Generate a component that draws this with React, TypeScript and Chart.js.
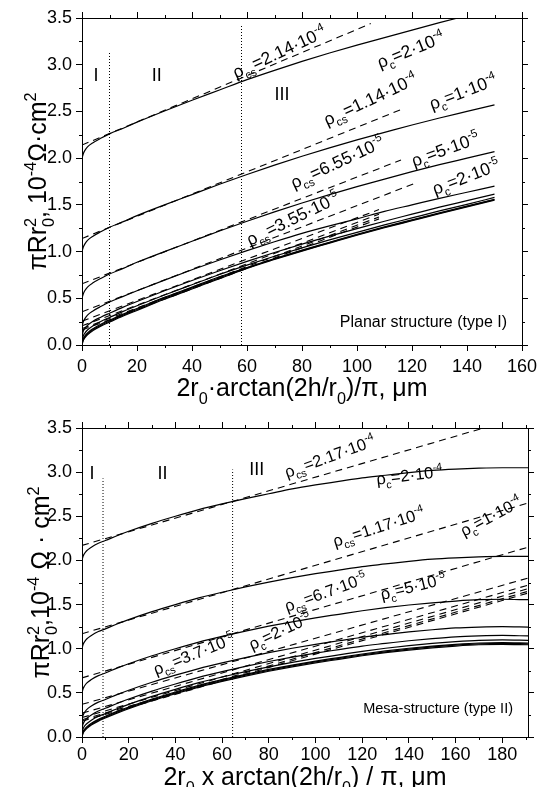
import React, { useEffect, useRef } from 'react';
import { Chart, registerables } from 'chart.js';

Chart.register(...registerables);

const FONT = '"Liberation Sans", Arial, Helvetica, sans-serif';

// ---------------- TOP PANEL (planar structure) ----------------
const X_TOP = [0, 0.5, 1, 2, 4, 7, 10, 15, 20, 30, 40, 50, 60, 70, 80, 90, 100, 110, 120, 130, 140, 150];
const TOP_RC_2E4 = [2.0, 2.05, 2.08, 2.12, 2.165, 2.215, 2.26, 2.32, 2.385, 2.505, 2.62, 2.73, 2.84, 2.94, 3.035, 3.125, 3.21, 3.29, 3.37, 3.45, 3.525, 3.6];
const TOP_RC_1E4 = [1.0, 1.05, 1.08, 1.12, 1.165, 1.215, 1.26, 1.32, 1.385, 1.5, 1.61, 1.72, 1.825, 1.925, 2.02, 2.11, 2.195, 2.275, 2.355, 2.43, 2.5, 2.57];
const TOP_RC_5E5 = [0.5, 0.55, 0.58, 0.62, 0.665, 0.715, 0.76, 0.82, 0.885, 1.0, 1.11, 1.22, 1.325, 1.425, 1.52, 1.61, 1.695, 1.775, 1.855, 1.93, 2.0, 2.07];
const TOP_RC_2E5 = [0.2, 0.25, 0.28, 0.32, 0.365, 0.415, 0.46, 0.52, 0.58, 0.695, 0.805, 0.91, 1.01, 1.105, 1.195, 1.275, 1.35, 1.43, 1.5, 1.57, 1.635, 1.7];
const TOP_RC_1E5 = [0.1, 0.15, 0.175, 0.21, 0.255, 0.3, 0.34, 0.405, 0.465, 0.58, 0.69, 0.795, 0.895, 0.99, 1.08, 1.165, 1.245, 1.325, 1.4, 1.475, 1.545, 1.615];
const TOP_RC_5E6 = [0.05, 0.1, 0.125, 0.16, 0.205, 0.255, 0.295, 0.36, 0.42, 0.535, 0.645, 0.755, 0.855, 0.95, 1.04, 1.125, 1.205, 1.285, 1.36, 1.435, 1.505, 1.58];
const TOP_RC_2E6 = [0.02, 0.07, 0.095, 0.13, 0.175, 0.225, 0.265, 0.33, 0.39, 0.51, 0.62, 0.73, 0.83, 0.925, 1.015, 1.1, 1.185, 1.265, 1.34, 1.415, 1.488, 1.56];
const TOP_RC_1E6 = [0.01, 0.06, 0.085, 0.12, 0.165, 0.215, 0.255, 0.32, 0.38, 0.5, 0.61, 0.72, 0.825, 0.92, 1.01, 1.095, 1.18, 1.26, 1.335, 1.41, 1.483, 1.555];
const TOP_RC_0 = [0, 0.05, 0.075, 0.11, 0.155, 0.205, 0.245, 0.31, 0.37, 0.49, 0.6, 0.71, 0.82, 0.915, 1.005, 1.09, 1.175, 1.255, 1.33, 1.405, 1.478, 1.55];
const TOP_SOLID = [TOP_RC_2E4, TOP_RC_1E4, TOP_RC_5E5, TOP_RC_2E5, TOP_RC_1E5, TOP_RC_5E6, TOP_RC_2E6, TOP_RC_1E6, TOP_RC_0];

// dashed linear fits (rho_cs): start at x = 0, end at given x
const TOP_DASH_Y_START = [2.14, 1.14, 0.655, 0.355, 0.255, 0.205, 0.175, 0.16];
const TOP_DASH_X_END = [105, 116, 116, 121, 108, 108, 108, 108];
const TOP_DASH_Y_END = [3.44, 2.52, 1.98, 1.73, 1.45, 1.4, 1.37, 1.35];

const TOP_DIVIDER_X = [10, 58];
const TOP_DIVIDER_TOP = [3.14, 3.42];

// ---------------- BOTTOM PANEL (mesa structure) ----------------
const X_BOT = [0, 0.5, 1, 2, 4, 7, 10, 15, 20, 30, 40, 50, 60, 70, 80, 90, 100, 110, 120, 130, 140, 150, 160, 170, 180, 191];
const BOT_RC_2E4 = [2.0, 2.05, 2.075, 2.11, 2.15, 2.195, 2.225, 2.28, 2.33, 2.42, 2.5, 2.575, 2.64, 2.7, 2.755, 2.81, 2.855, 2.895, 2.935, 2.965, 2.995, 3.02, 3.035, 3.045, 3.05, 3.05];
const BOT_RC_1E4 = [1.0, 1.05, 1.075, 1.11, 1.15, 1.195, 1.225, 1.28, 1.33, 1.42, 1.5, 1.575, 1.64, 1.7, 1.755, 1.805, 1.85, 1.89, 1.93, 1.96, 1.99, 2.015, 2.03, 2.04, 2.045, 2.045];
const BOT_RC_5E5 = [0.5, 0.55, 0.575, 0.61, 0.65, 0.695, 0.725, 0.78, 0.83, 0.92, 1.0, 1.075, 1.14, 1.2, 1.255, 1.305, 1.35, 1.39, 1.43, 1.465, 1.495, 1.52, 1.54, 1.555, 1.56, 1.555];
const BOT_RC_2E5 = [0.2, 0.25, 0.275, 0.31, 0.35, 0.395, 0.425, 0.48, 0.53, 0.62, 0.7, 0.775, 0.84, 0.9, 0.955, 1.005, 1.05, 1.09, 1.13, 1.16, 1.19, 1.215, 1.235, 1.245, 1.25, 1.245];
const BOT_RC_1E5 = [0.1, 0.15, 0.175, 0.21, 0.25, 0.295, 0.325, 0.38, 0.43, 0.52, 0.6, 0.675, 0.74, 0.8, 0.855, 0.905, 0.95, 0.99, 1.03, 1.06, 1.09, 1.115, 1.135, 1.145, 1.15, 1.145];
const BOT_RC_5E6 = [0.05, 0.095, 0.12, 0.15, 0.19, 0.235, 0.265, 0.32, 0.37, 0.46, 0.54, 0.615, 0.68, 0.74, 0.795, 0.845, 0.89, 0.93, 0.97, 1.005, 1.035, 1.06, 1.08, 1.095, 1.1, 1.095];
const BOT_RC_2E6 = [0.02, 0.065, 0.085, 0.115, 0.155, 0.2, 0.235, 0.29, 0.34, 0.43, 0.51, 0.585, 0.65, 0.71, 0.765, 0.815, 0.86, 0.9, 0.94, 0.975, 1.005, 1.03, 1.05, 1.065, 1.07, 1.065];
const BOT_RC_1E6 = [0.01, 0.055, 0.075, 0.105, 0.145, 0.19, 0.225, 0.28, 0.33, 0.42, 0.5, 0.575, 0.64, 0.7, 0.755, 0.805, 0.85, 0.89, 0.93, 0.965, 0.995, 1.02, 1.04, 1.055, 1.06, 1.055];
const BOT_RC_0 = [0, 0.045, 0.065, 0.095, 0.135, 0.18, 0.215, 0.27, 0.32, 0.41, 0.49, 0.565, 0.63, 0.69, 0.745, 0.795, 0.84, 0.88, 0.92, 0.955, 0.985, 1.01, 1.03, 1.045, 1.05, 1.045];
const BOT_SOLID = [BOT_RC_2E4, BOT_RC_1E4, BOT_RC_5E5, BOT_RC_2E5, BOT_RC_1E5, BOT_RC_5E6, BOT_RC_2E6, BOT_RC_1E6, BOT_RC_0];

const BOT_DASH_Y_START = [2.17, 1.17, 0.67, 0.37, 0.27, 0.22, 0.195, 0.18];
const BOT_DASH_X_END = [172, 191, 191, 191, 191, 191, 191, 191];
const BOT_DASH_Y_END = [3.5, 2.65, 2.15, 1.8, 1.72, 1.68, 1.65, 1.63];

const BOT_DIVIDER_X = [9, 64.5];
const BOT_DIVIDER_TOP = [2.93, 3.03];

// ---------------- text ----------------
const TOP_NOTES = [
  { text: 'ρ_{cs}=2.14·10^{-4}', x: 56.0, y: 2.85, angle: -25 },
  { text: 'ρ_{c}=2·10^{-4}', x: 108.4, y: 2.96, angle: -22 },
  { text: 'ρ_{cs}=1.14·10^{-4}', x: 89.1, y: 2.345, angle: -25 },
  { text: 'ρ_{c}=1·10^{-4}', x: 127.3, y: 2.516, angle: -21 },
  { text: 'ρ_{cs}=6.55·10^{-5}', x: 77.1, y: 1.67, angle: -25 },
  { text: 'ρ_{c}=5·10^{-5}', x: 120.7, y: 1.906, angle: -20 },
  { text: 'ρ_{cs}=3.55·10^{-5}', x: 61.1, y: 1.06, angle: -26 },
  { text: 'ρ_{c}=2·10^{-5}', x: 128.4, y: 1.606, angle: -21 },
];
const BOT_NOTES = [
  { text: 'ρ_{cs}=2.17·10^{-4}', x: 87.8, y: 2.935, angle: -20 },
  { text: 'ρ_{c}=2·10^{-4}', x: 126.3, y: 2.857, angle: -7 },
  { text: 'ρ_{cs}=1.17·10^{-4}', x: 108.4, y: 2.153, angle: -18 },
  { text: 'ρ_{c}=1·10^{-4}', x: 163.6, y: 2.267, angle: -28 },
  { text: 'ρ_{cs}=6.7·10^{-5}', x: 87.8, y: 1.415, angle: -20 },
  { text: 'ρ_{c}=5·10^{-5}', x: 128.5, y: 1.552, angle: -14 },
  { text: 'ρ_{cs}=3.7·10^{-5}', x: 31.7, y: 0.7, angle: -22 },
  { text: 'ρ_{c}=2·10^{-5}', x: 72.8, y: 0.984, angle: -25 },
];
const TOP_REGIONS = [
  { text: 'I', x: 5.1, y: 2.89 },
  { text: 'II', x: 27.2, y: 2.89 },
  { text: 'III', x: 72.7, y: 2.69 },
];
const BOT_REGIONS = [
  { text: 'I', x: 4.3, y: 3.0 },
  { text: 'II', x: 34.5, y: 3.0 },
  { text: 'III', x: 74.8, y: 3.04 },
];

// ---------------- rich text helpers ----------------
type Seg = { t: string; k: 'n' | 'b' | 'p' };
function parseRich(s: string): Seg[] {
  const out: Seg[] = [];
  let i = 0;
  let buf = '';
  while (i < s.length) {
    const c = s[i];
    if ((c === '_' || c === '^') && s[i + 1] === '{') {
      if (buf) { out.push({ t: buf, k: 'n' }); buf = ''; }
      const j = s.indexOf('}', i);
      out.push({ t: s.slice(i + 2, j), k: c === '_' ? 'b' : 'p' });
      i = j + 1;
    } else {
      buf += c;
      i++;
    }
  }
  if (buf) out.push({ t: buf, k: 'n' });
  return out;
}
function drawRich(ctx: CanvasRenderingContext2D, s: string, x: number, y: number, size: number, align: 'left' | 'center' | 'right' = 'left') {
  const segs = parseRich(s);
  const items: { t: string; font: string; dx: number; dy: number }[] = [];
  let cx = 0;
  let subStart = 0;
  let subW = 0;
  segs.forEach((sg, idx) => {
    const fs = sg.k === 'n' ? size : size * 0.65;
    const font = `${fs}px ${FONT}`;
    ctx.font = font;
    const w = ctx.measureText(sg.t).width;
    let dy = 0;
    if (sg.k === 'b') dy = size * 0.3;
    if (sg.k === 'p') dy = -size * 0.42;
    if (sg.k === 'p' && idx > 0 && segs[idx - 1].k === 'b') {
      items.push({ t: sg.t, font, dx: subStart, dy });
      cx = subStart + Math.max(subW, w);
      return;
    }
    items.push({ t: sg.t, font, dx: cx, dy });
    if (sg.k === 'b') { subStart = cx; subW = w; }
    cx += w;
  });
  const x0 = align === 'left' ? x : align === 'center' ? x - cx / 2 : x - cx;
  ctx.fillStyle = '#000';
  ctx.textAlign = 'left';
  ctx.textBaseline = 'alphabetic';
  for (const it of items) {
    ctx.font = it.font;
    ctx.fillText(it.t, x0 + it.dx, y + it.dy);
  }
}

type PanelCfg = {
  xMax: number;
  xMinor: number;
  xMajor: number;
  notes: { text: string; x: number; y: number; angle: number }[];
  noteSize: number;
  regions: { text: string; x: number; y: number }[];
  xTitle: string;
  yTitle: string;
  xTitleDy: number;
  yTitleDx: number;
  tag: string;
  tagDx: number;
  tagDy: number;
  tagSize: number;
};

function decorPlugin(cfg: PanelCfg) {
  return {
    id: 'decor',
    afterDraw(chart: any) {
      const { ctx, chartArea: a, scales } = chart;
      const xs = scales.x;
      const ys = scales.y;
      ctx.save();
      // minor ticks
      ctx.strokeStyle = '#000';
      ctx.lineWidth = 1;
      ctx.beginPath();
      for (let k = 1; k * cfg.xMinor <= cfg.xMax + 1e-9; k++) {
        const v = k * cfg.xMinor;
        if (Math.abs(v / cfg.xMajor - Math.round(v / cfg.xMajor)) < 1e-6) continue;
        const px = Math.round(xs.getPixelForValue(v)) + 0.5;
        ctx.moveTo(px, a.bottom);
        ctx.lineTo(px, a.bottom + 3);
        ctx.moveTo(px, a.top);
        ctx.lineTo(px, a.top - 3);
      }
      for (let k = 0; k < 7; k++) {
        const v = 0.25 + k * 0.5;
        const py = Math.round(ys.getPixelForValue(v)) + 0.5;
        ctx.moveTo(a.left, py);
        ctx.lineTo(a.left - 3, py);
        ctx.moveTo(a.right, py);
        ctx.lineTo(a.right + 3, py);
      }
      ctx.stroke();

      // rotated labels
      for (const n of cfg.notes) {
        const px = xs.getPixelForValue(n.x);
        const py = ys.getPixelForValue(n.y);
        ctx.save();
        ctx.translate(px, py);
        ctx.rotate((n.angle * Math.PI) / 180);
        drawRich(ctx, n.text, 0, 0, cfg.noteSize, 'left');
        ctx.restore();
      }
      // region numerals
      for (const r of cfg.regions) {
        const px = xs.getPixelForValue(r.x);
        const py = ys.getPixelForValue(r.y);
        drawRich(ctx, r.text, px, py + 18 * 0.36, 18, 'center');
      }
      // structure tag
      drawRich(ctx, cfg.tag, a.right - cfg.tagDx, a.bottom - cfg.tagDy, cfg.tagSize, 'right');
      // axis titles
      const cxm = (a.left + a.right) / 2;
      drawRich(ctx, cfg.xTitle, cxm, a.bottom + cfg.xTitleDy, 25, 'center');
      ctx.save();
      ctx.translate(a.left - cfg.yTitleDx, (a.top + a.bottom) / 2);
      ctx.rotate(-Math.PI / 2);
      drawRich(ctx, cfg.yTitle, 0, 0, 25, 'center');
      ctx.restore();
      ctx.restore();
    },
  };
}

function buildDatasets(xArr: number[], solids: number[][], y0: number[], xEnd: number[], y1: number[], divX: number[], divTop: number[]) {
  const ds: any[] = [];
  solids.forEach((ys) => {
    ds.push({
      data: xArr.map((x, i) => ({ x, y: ys[i] })),
      borderColor: '#000',
      borderWidth: 1.2,
      pointRadius: 0,
      cubicInterpolationMode: 'monotone',
      fill: false,
    });
  });
  y0.forEach((v, i) => {
    ds.push({
      data: [{ x: 0, y: v }, { x: xEnd[i], y: y1[i] }],
      borderColor: '#000',
      borderWidth: 1.1,
      borderDash: [7, 5],
      pointRadius: 0,
      fill: false,
    });
  });
  divX.forEach((x, i) => {
    ds.push({
      data: [{ x, y: 0 }, { x, y: divTop[i] }],
      borderColor: '#000',
      borderWidth: 1,
      borderDash: [1, 2],
      pointRadius: 0,
      fill: false,
    });
  });
  return ds;
}

function makeScales(xMax: number, top: number, bottom: number, left: number, right: number, canvasW: number, canvasH: number, xPad: number) {
  const grid = { display: true, drawOnChartArea: false, drawTicks: true, tickLength: 6, color: '#000', tickColor: '#000', lineWidth: 1 };
  const border = { display: true, color: '#000', width: 1 };
  const tickFont = { family: FONT, size: 18 };
  return {
    x: {
      type: 'linear', position: 'bottom', min: 0, max: xMax,
      ticks: { stepSize: 20, includeBounds: false, autoSkip: false, maxRotation: 0, font: tickFont, color: '#000', padding: xPad, callback: (v: any) => String(v) },
      grid, border,
      afterFit: (s: any) => { s.height = canvasH - bottom; },
    },
    x2: {
      type: 'linear', position: 'top', min: 0, max: xMax,
      ticks: { stepSize: 20, includeBounds: false, display: false },
      grid, border,
      afterFit: (s: any) => { s.height = top; },
    },
    y: {
      type: 'linear', position: 'left', min: 0, max: 3.5,
      ticks: { stepSize: 0.5, includeBounds: false, font: tickFont, color: '#000', padding: 4, callback: (v: any) => Number(v).toFixed(1) },
      grid, border,
      afterFit: (s: any) => { s.width = left; },
    },
    y2: {
      type: 'linear', position: 'right', min: 0, max: 3.5,
      ticks: { stepSize: 0.5, includeBounds: false, display: false },
      grid, border,
      afterFit: (s: any) => { s.width = canvasW - right; },
    },
  };
}

const CW = 600;
const CH = 787;

export default function App() {
  const topRef = useRef<HTMLCanvasElement>(null);
  const botRef = useRef<HTMLCanvasElement>(null);

  useEffect(() => {
    const topCfg: PanelCfg = {
      xMax: 160, xMinor: 10, xMajor: 20,
      notes: TOP_NOTES, noteSize: 17.5, regions: TOP_REGIONS,
      xTitle: '2r_{0}·arctan(2h/r_{0})/π, μm',
      yTitle: 'πRr_{0}^{2}, 10^{-4}Ω·cm^{2}',
      xTitleDy: 51, yTitleDx: 36,
      tag: 'Planar structure (type I)', tagDx: 15, tagDy: 18, tagSize: 16,
    };
    const botCfg: PanelCfg = {
      xMax: 191, xMinor: 10, xMajor: 20,
      notes: BOT_NOTES, noteSize: 16.5, regions: BOT_REGIONS,
      xTitle: '2r_{0} x arctan(2h/r_{0}) / π, μm',
      yTitle: 'πRr_{0}^{2},10^{-4} Ω · cm^{2}',
      xTitleDy: 48, yTitleDx: 33,
      tag: 'Mesa-structure (type II)', tagDx: 15, tagDy: 24, tagSize: 14.5,
    };
    const common = (scales: any, plugin: any, datasets: any[]) => ({
      type: 'line' as const,
      data: { datasets },
      options: {
        responsive: false,
        animation: false,
        devicePixelRatio: 1,
        layout: { padding: 0 },
        plugins: { legend: { display: false }, tooltip: { enabled: false } },
        events: [],
        scales,
      },
      plugins: [plugin],
    });
    const topChart = new Chart(
      topRef.current as HTMLCanvasElement,
      common(
        makeScales(160, 18, 345, 82, 522, CW, CH, 5),
        decorPlugin(topCfg),
        buildDatasets(X_TOP, TOP_SOLID, TOP_DASH_Y_START, TOP_DASH_X_END, TOP_DASH_Y_END, TOP_DIVIDER_X, TOP_DIVIDER_TOP),
      ) as any,
    );
    const botChart = new Chart(
      botRef.current as HTMLCanvasElement,
      common(
        makeScales(191, 428, 737, 82, 528, CW, CH, 1),
        decorPlugin(botCfg),
        buildDatasets(X_BOT, BOT_SOLID, BOT_DASH_Y_START, BOT_DASH_X_END, BOT_DASH_Y_END, BOT_DIVIDER_X, BOT_DIVIDER_TOP),
      ) as any,
    );
    return () => {
      topChart.destroy();
      botChart.destroy();
    };
  }, []);

  const cs: React.CSSProperties = { position: 'absolute', left: 0, top: 0, width: CW, height: CH };
  return (
    <div style={{ position: 'fixed', left: 0, top: 0, width: 537, height: 787, overflow: 'hidden', background: '#fff' }}>
      <canvas ref={botRef} width={CW} height={CH} style={cs} />
      <canvas ref={topRef} width={CW} height={CH} style={cs} />
    </div>
  );
}
